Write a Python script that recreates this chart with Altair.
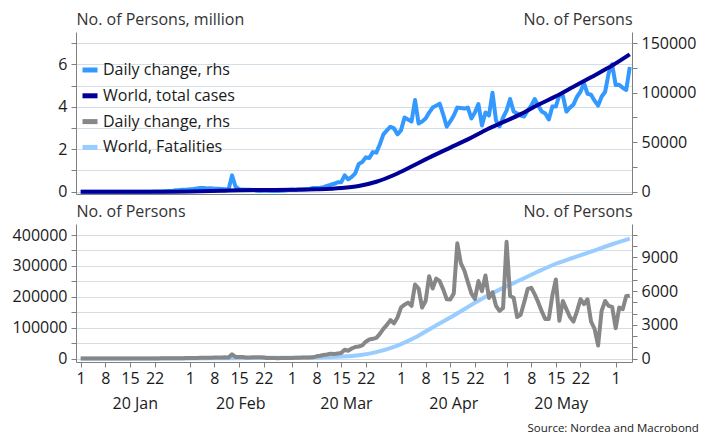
import altair as alt
import pandas as pd

FONT = "Open Sans"

# ---------------- data ----------------
n_days = 157  # 2020-01-01 .. 2020-06-05
dates = pd.date_range("2020-01-01", periods=n_days, freq="D").strftime("%Y-%m-%d").tolist()

cases_daily = (
    [0] * 21
    + [100, 150, 300, 500, 700, 800, 1500, 1700, 2000, 2000]
    + [2500, 2800, 3200, 3800, 3700, 3200, 3400, 3000, 3000, 2800, 2600, 2000]
    + [16500]
    + [5000, 2600, 2100, 2000, 1900, 1800, 1000, 600, 1000, 1000, 600, 900, 800, 1000, 1300, 1800]
    + [2000, 1800, 2300, 2200, 2500, 2800, 3800, 3700, 4000, 4500]
    + [5800, 7000, 8000, 9500, 9500, 16500, 12500, 15000, 18600, 28000]
    + [30000, 34700, 34000, 40000, 39500, 48000, 58000, 62000, 65700, 64000]
    + [58000, 62000, 75000, 73000, 71000, 92700, 69000, 71000, 74000, 80000]
    + [85000, 87000, 89000, 78000, 65700, 71000, 77000, 85000, 84500, 84000]
    + [85000, 74000, 80000, 88600, 67000, 80000, 77000, 100000, 72000, 66000]
    + [75000, 82000, 93700, 81000, 79000, 77000, 76000, 82000, 87000, 93700]
    + [87000, 81000, 79000, 73000, 86000, 86000, 97700, 97000, 81000, 85000]
    + [88000, 96000, 101000, 109600, 99000, 98000, 92000, 87000, 96000, 101000]
    + [119700, 128800, 107800, 108000, 105000, 102800, 126000]
)

deaths_daily = (
    [0] * 21
    + [10, 10, 20, 20, 20, 30, 30, 40, 40, 45]
    + [50, 60, 60, 65, 70, 70, 80, 90, 90, 100, 110, 100]
    + [380]
    + [150, 140, 140, 100, 100, 120, 110, 120, 100, 60, 60, 60, 40, 50, 60, 60]
    + [60, 70, 80, 90, 100, 100, 110, 200, 250, 320]
    + [370, 440, 400, 450, 500, 790, 700, 900, 1030, 1080]
    + [1170, 1500, 1700, 1760, 1850, 2200, 2640, 3000, 3430, 3130]
    + [3660, 4540, 4800, 4980, 4690, 6600, 6240, 4540, 5130, 7330]
    + [6240, 7120, 6890, 6160, 5280, 5250, 5800, 10260, 8500, 7840]
    + [6800, 5800, 5300, 6900, 6000, 7400, 5400, 5900, 4700, 4250]
    + [4500, 10400, 5570, 5420, 3700, 3900, 5000, 6200, 6300, 5720]
    + [5000, 4200, 3520, 3520, 5600, 7040, 3370, 5130, 4400, 3700]
    + [3300, 4200, 5280, 4840, 5280, 3300, 2640, 1170, 4250, 5130]
    + [4690, 4600, 2700, 4540, 4400, 5570, 5600]
)

total_dates = ["2020-01-01", "2020-01-22", "2020-02-01", "2020-02-10", "2020-02-15", "2020-02-22",
               "2020-03-01", "2020-03-08", "2020-03-15", "2020-03-20", "2020-03-25", "2020-03-31",
               "2020-04-05", "2020-04-10", "2020-04-15", "2020-04-20", "2020-04-25", "2020-05-01",
               "2020-05-05", "2020-05-10", "2020-05-15", "2020-05-20", "2020-05-25", "2020-05-31",
               "2020-06-05"]
cases_total_mn = [0, 0.0006, 0.012, 0.043, 0.069, 0.079,
                  0.088, 0.11, 0.17, 0.27, 0.47, 0.86,
                  1.27, 1.69, 2.08, 2.47, 2.9, 3.35,
                  3.66, 4.1, 4.5, 4.95, 5.4, 5.95,
                  6.48]
deaths_total = [0, 17, 260, 1000, 1500, 2400,
                3000, 3800, 6400, 11000, 21000, 42000,
                68000, 101000, 133000, 167000, 200000, 234000,
                255000, 282000, 307000, 327000, 346000, 370000,
                388000]

series_names = ["Cases, daily change", "World, total cases", "Fatalities, daily change", "World, Fatalities"]
series_colors = ["#3399ff", "#000099", "#878787", "#99ccff"]

tick_days = [1, 8, 15, 22]
tick_months = [1, 2, 3, 4, 5, 6]
month_label_dates = ["2020-01-16T12:00:00Z", "2020-02-15T12:00:00Z", "2020-03-16T12:00:00Z",
                     "2020-04-16T00:00:00Z", "2020-05-16T12:00:00Z"]
month_labels = ["20 Jan", "20 Feb", "20 Mar", "20 Apr", "20 May"]
source_text = "Source: Nordea and Macrobond"

# ---------------- helpers ----------------
def ms(s):
    return int(pd.Timestamp(s, tz="UTC").value // 10**6)

x_domain = [ms("2019-12-30T16:00:00"), ms("2020-06-05T15:15:00")]
tick_values = [ms(f"2020-{m:02d}-{d:02d}") for m in tick_months for d in tick_days
               if ms(f"2020-{m:02d}-{d:02d}") <= ms("2020-06-05")]

AXIS_C = "#808080"
GRID_C = "#d3dee7"
LABEL_C = "#1a1a1a"
TITLE_C = "#333333"
W = 556

x_scale = alt.Scale(type="utc", domain=x_domain)

color_scale = alt.Scale(domain=series_names, range=series_colors)

def yaxis(orient, values, label_expr, title, grid):
    return alt.Axis(
        orient=orient, values=values, labelExpr=label_expr, grid=grid, gridColor=GRID_C,
        gridWidth=1, tickSize=5, tickColor=AXIS_C, domainColor=AXIS_C, labelPadding=4,
        labelFont=FONT, labelFontSize=16, labelColor=LABEL_C, labelFlush=False,
        labelOverlap=False, title=title, titleAngle=0, titleAlign=("left" if orient == "left" else "right"),
        titleX=0, titleY=-8, titleBaseline="alphabetic", titleFont=FONT, titleFontSize=16,
        titleFontWeight="normal", titleColor=TITLE_C,
    )

# ---------------- top panel ----------------
top_daily = pd.DataFrame({"date": dates, "value": cases_daily, "series": series_names[0]})
top_total = pd.DataFrame({"date": total_dates, "value": cases_total_mn, "series": series_names[1]})

x_top = alt.X("date:T", scale=x_scale,
              axis=alt.Axis(labels=False, ticks=False, grid=False, title=None, domainColor=AXIS_C))

legend = alt.Legend(
    orient="none", legendX=4, legendY=28, title=None, symbolType="stroke", symbolStrokeWidth=5,
    symbolSize=225, labelFont=FONT, labelFontSize=16, labelColor=LABEL_C, rowPadding=5.8,
    labelOffset=3, padding=0, labelLimit=400,
    labelExpr="indexof(datum.label, 'daily') >= 0 ? 'Daily change, rhs' : datum.label",
)

top_daily_line = alt.Chart(top_daily).mark_line(strokeWidth=4, strokeJoin="round").encode(
    x=x_top,
    y=alt.Y("value:Q", scale=alt.Scale(domain=[-2325, 161421], nice=False, zero=False),
            axis=yaxis("right", list(range(0, 150001, 25000)),
                       "datum.value % 50000 == 0 ? format(datum.value, 'd') : ''",
                       "No. of Persons", False)),
    color=alt.Color("series:N", scale=color_scale, legend=legend),
)
top_total_line = alt.Chart(top_total).mark_line(strokeWidth=4, interpolate="monotone").encode(
    x=x_top,
    y=alt.Y("value:Q", scale=alt.Scale(domain=[-0.1085, 7.533], nice=False, zero=False),
            axis=yaxis("left", list(range(0, 8)),
                       "datum.value % 2 == 0 ? format(datum.value, 'd') : ''",
                       "No. of Persons, million", True)),
    color=alt.Color("series:N", scale=color_scale, legend=legend),
)
top = alt.layer(top_daily_line, top_total_line).resolve_scale(y="independent").properties(
    width=W, height=162)

# ---------------- bottom panel ----------------
bot_daily = pd.DataFrame({"date": dates, "value": deaths_daily, "series": series_names[2]})
bot_total = pd.DataFrame({"date": total_dates, "value": deaths_total, "series": series_names[3]})
month_df = pd.DataFrame({"date": month_label_dates, "label": month_labels})

x_bot = alt.X("date:T", scale=x_scale,
              axis=alt.Axis(values=tick_values, labelExpr="utcdate(datum.value)", grid=False, title=None,
                            tickSize=5, tickColor=AXIS_C, domainColor=AXIS_C, labelPadding=3,
                            labelFont=FONT, labelFontSize=16, labelColor=LABEL_C, labelFlush=False,
                            labelOverlap=False))

bot_total_line = alt.Chart(bot_total).mark_line(strokeWidth=4, interpolate="monotone").encode(
    x=x_bot,
    y=alt.Y("value:Q", scale=alt.Scale(domain=[-11003, 435599], nice=False, zero=False),
            axis=yaxis("left", list(range(0, 400001, 50000)),
                       "datum.value % 100000 == 0 ? format(datum.value, 'd') : ''",
                       "No. of Persons", True)),
    color=alt.Color("series:N", scale=color_scale, legend=None),
)
bot_daily_line = alt.Chart(bot_daily).mark_line(strokeWidth=4, strokeJoin="round").encode(
    x=x_bot,
    y=alt.Y("value:Q", scale=alt.Scale(domain=[-303, 11979], nice=False, zero=False),
            axis=yaxis("right", list(range(0, 11001, 1000)),
                       "datum.value % 3000 == 0 ? format(datum.value, 'd') : ''",
                       "No. of Persons", False)),
    color=alt.Color("series:N", scale=color_scale, legend=None),
)
month_text = alt.Chart(month_df).mark_text(font=FONT, fontSize=16, color=LABEL_C, align="center",
                                           baseline="middle").encode(
    x=x_bot, y=alt.value(180), text="label:N")

bottom = alt.layer(bot_total_line, bot_daily_line, month_text).resolve_scale(y="independent").properties(
    width=W, height=138)

chart = alt.vconcat(top, bottom, spacing=3).resolve_scale(color="independent").properties(
    title=alt.TitleParams(source_text, orient="bottom", anchor="end", font=FONT, fontSize=11.5,
                          fontWeight="normal", color=LABEL_C, offset=11, dx=3),
    padding={"left": 4, "top": 3, "right": 2, "bottom": 2},
    background="white",
).configure_view(stroke=None)

chart.save("out.html", embed_options={"renderer": "svg", "actions": False})
